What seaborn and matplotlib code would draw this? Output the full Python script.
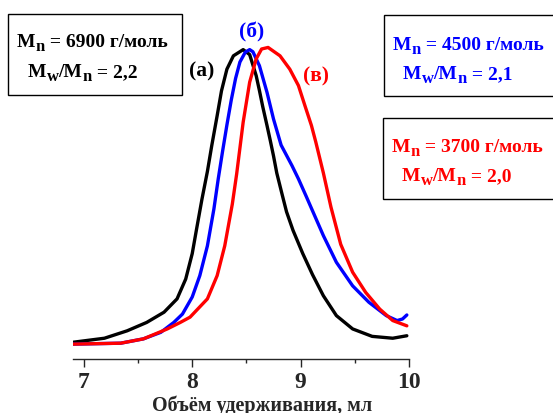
import matplotlib
matplotlib.use('Agg')
import matplotlib.pyplot as plt
from matplotlib.patches import Rectangle
from matplotlib.ticker import MultipleLocator
import seaborn as sns
import pandas as pd

# Elution curves (retention volume in ml, normalised intensity)
vol_a = [6.90, 7.19, 7.40, 7.58, 7.74, 7.86, 7.94, 8.00, 8.04, 8.09, 8.14, 8.18,
         8.23, 8.27, 8.32, 8.38, 8.47, 8.53, 8.59, 8.62, 8.65, 8.69, 8.72, 8.75,
         8.78, 8.83, 8.87, 8.93, 9.02, 9.11, 9.21, 9.33, 9.48, 9.66, 9.85, 9.98]
int_a = [0.054, 0.067, 0.091, 0.118, 0.151, 0.194, 0.258, 0.340, 0.419, 0.516, 0.605, 0.688,
         0.785, 0.865, 0.935, 0.978, 0.998, 0.982, 0.914, 0.866, 0.815, 0.753, 0.705, 0.655,
         0.600, 0.530, 0.475, 0.415, 0.340, 0.272, 0.204, 0.140, 0.097, 0.073, 0.067, 0.075]

vol_b = [6.90, 7.34, 7.55, 7.71, 7.83, 7.91, 8.00, 8.07, 8.14, 8.20, 8.24, 8.28,
         8.32, 8.36, 8.40, 8.44, 8.49, 8.53, 8.56, 8.62, 8.69, 8.75, 8.82, 8.92,
         8.98, 9.05, 9.21, 9.33, 9.48, 9.63, 9.79, 9.89, 9.94, 9.98]
int_b = [0.048, 0.051, 0.065, 0.086, 0.118, 0.145, 0.200, 0.269, 0.365, 0.484, 0.581, 0.670,
         0.755, 0.835, 0.905, 0.958, 0.990, 0.998, 0.991, 0.946, 0.860, 0.774, 0.690, 0.624,
         0.581, 0.526, 0.398, 0.312, 0.236, 0.183, 0.140, 0.124, 0.129, 0.142]

vol_c = [6.90, 7.34, 7.55, 7.77, 7.89, 7.98, 8.14, 8.23, 8.30, 8.37, 8.41, 8.47,
         8.53, 8.59, 8.64, 8.70, 8.81, 8.90, 8.98, 9.04, 9.10, 9.14, 9.21, 9.28,
         9.37, 9.48, 9.60, 9.73, 9.85, 9.98]
int_c = [0.048, 0.051, 0.065, 0.097, 0.118, 0.135, 0.194, 0.269, 0.365, 0.500, 0.597, 0.764,
         0.893, 0.968, 1.000, 1.005, 0.978, 0.935, 0.882, 0.817, 0.753, 0.700, 0.600, 0.490,
         0.370, 0.280, 0.215, 0.161, 0.124, 0.107]

labels = ['(а)', '(б)', '(в)']
colors = ['black', 'blue', 'red']
mn_values = ['6900', '4500', '3700']
pdi_values = ['2,2', '2,1', '2,0']

sns.set_style('ticks')
plt.rcParams['font.family'] = ['Liberation Serif', 'DejaVu Serif']
plt.rcParams['font.weight'] = 'bold'

W, H = 553, 414
fig = plt.figure(figsize=(W / 100, H / 100), dpi=100)


def fx(px):
    return px / W


def fy(py):
    return 1 - py / H


ax = fig.add_axes([fx(73), fy(360), fx(409) - fx(73), fy(40) - fy(360)])

frames = []
for v, i, lab in zip([vol_a, vol_b, vol_c], [int_a, int_b, int_c], labels):
    frames.append(pd.DataFrame({'vol': v, 'intensity': i, 'sample': lab}))
df = pd.concat(frames, ignore_index=True)

sns.lineplot(data=df, x='vol', y='intensity', hue='sample', palette=colors,
             linewidth=2.4, legend=False, ax=ax, sort=False)
for ln in ax.lines:
    ln.set_solid_joinstyle('round')
    ln.set_solid_capstyle('round')

ax.set_xlim(6.9, 10.0)
ax.set_ylim(0, 320 / 310)
ax.xaxis.set_major_locator(MultipleLocator(1))
ax.xaxis.set_minor_locator(MultipleLocator(0.5))
ax.tick_params(axis='x', which='major', length=6, width=1, labelsize=17, pad=3)
ax.tick_params(axis='x', which='minor', length=3, width=1)
ax.set_yticks([])
for s in ['left', 'right', 'top']:
    ax.spines[s].set_visible(False)
ax.spines['bottom'].set_linewidth(1)
ax.set_xlabel('')
ax.set_ylabel('')
fig.text(fx(262), fy(396), 'Объём удерживания, мл', fontsize=14.5, fontweight='bold',
         ha='center', va='top')

# curve labels
ax.text(8.09, 0.93, labels[0], color=colors[0], fontsize=15.5, ha='center', va='center', fontweight='bold')
ax.text(8.55, 1.055, labels[1], color=colors[1], fontsize=15.5, ha='center', va='center',
        fontweight='bold', clip_on=False)
ax.text(9.14, 0.915, labels[2], color=colors[2], fontsize=15.5, ha='center', va='center', fontweight='bold')

renderer = fig.canvas.get_renderer()


def rich_text(x, y, parts, color):
    """Write text pieces one after another; each piece is (text, size, shift in px)."""
    xp = x
    for s, size, dy in parts:
        t = fig.text(fx(xp), fy(y + dy), s, color=color, fontsize=size,
                     fontweight='bold', ha='left', va='baseline')
        xp += t.get_window_extent(renderer).width


# parameter boxes (pixel positions in the figure)
boxes = [(8, 15, 174, 81), (384, 16, 180, 81), (383, 119, 180, 81)]
text_pos = [(17, 47, 28, 77), (393, 50, 403, 79), (392, 152, 402, 181)]
for (bx, by, bw, bh), (x1, y1, x2, y2), c, mn, pdi in zip(boxes, text_pos, colors, mn_values, pdi_values):
    fig.patches.append(Rectangle((fx(bx), fy(by + bh)), bw / W, bh / H,
                                 transform=fig.transFigure, facecolor='white',
                                 edgecolor='black', linewidth=1))
    rich_text(x1, y1, [('M', 14, 0), ('n', 12, 4), (' = ' + mn + ' г/моль', 14, 0)], c)
    rich_text(x2, y2, [('M', 14, 0), ('w', 12, 4), ('/M', 14, 0), ('n', 12, 4),
                       (' = ' + pdi, 14, 0)], c)

fig.savefig('out.png', dpi=100)
